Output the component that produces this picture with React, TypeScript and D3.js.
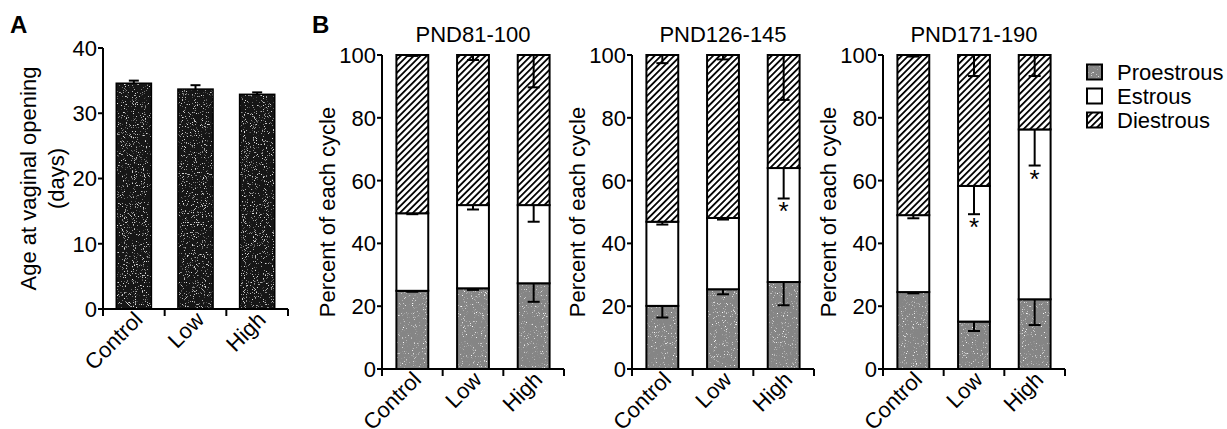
import React from "react";
import * as d3 from "d3";

// ---------- data ----------
const categories = ["Control", "Low", "High"];

// Panel A: age at vaginal opening (days)
const ageMeans = [34.6, 33.7, 32.9];
const ageSE = [0.4, 0.6, 0.3];
const ageTicks = [0, 10, 20, 30, 40];

// Panel B: percent of each cycle phase
const periods = ["PND81-100", "PND126-145", "PND171-190"];
const phases = ["Proestrous", "Estrous", "Diestrous"];
const proestrous = [
  [24.9, 25.7, 27.3],
  [20.1, 25.4, 27.7],
  [24.5, 15.1, 22.2],
];
const estrous = [
  [24.7, 26.5, 24.9],
  [26.8, 22.7, 36.3],
  [24.5, 43.2, 54.1],
];
const diestrous = [
  [50.4, 47.8, 47.8],
  [53.1, 51.9, 36.0],
  [51.0, 41.7, 23.7],
];
const proSE = [
  [0.3, 0.5, 5.9],
  [3.7, 1.6, 7.4],
  [0.4, 3.0, 8.2],
];
const estSE = [
  [0.3, 1.4, 5.3],
  [0.9, 0.5, 9.7],
  [1.0, 9.0, 11.5],
];
const diSE = [
  [0.3, 1.6, 10.3],
  [2.6, 1.4, 14.3],
  [0.5, 6.7, 6.7],
];
// significance markers: [period index, category index, phase]
const stars: [number, number, string][] = [
  [1, 2, "Estrous"],
  [2, 1, "Estrous"],
  [2, 2, "Estrous"],
];
const pctTicks = [0, 20, 40, 60, 80, 100];

// ---------- layout ----------
const W = 1227;
const H = 429;
const FONT = "'Liberation Sans', Arial, Helvetica, sans-serif";
const FS = 22;
const GRAY = "#858585";
const DARK = "#161616";

function CatLabels({ x, y0 }: { x: d3.ScaleBand<string>; y0: number }) {
  return (
    <g>
      {categories.map((c) => {
        const cx = (x(c) as number) + x.bandwidth() / 2;
        return (
          <text
            key={c}
            transform={`translate(${cx + 10},${y0 + 12}) rotate(-45)`}
            textAnchor="end"
            fontSize={FS}
            fontFamily={FONT}
          >
            {c}
          </text>
        );
      })}
    </g>
  );
}

function XAxisLine({ x, y0 }: { x: d3.ScaleBand<string>; y0: number }) {
  const [r0, r1] = x.range();
  const step = (r1 - r0) / categories.length;
  const bounds = d3.range(categories.length + 1).map((i) => r0 + i * step);
  return (
    <g stroke="#000" strokeWidth={2}>
      <line x1={r0} x2={r1} y1={y0} y2={y0} />
      {bounds.map((b, i) => (
        <line key={i} x1={b} x2={b} y1={y0} y2={y0 + 7} />
      ))}
    </g>
  );
}

function YAxis({
  y,
  x0,
  ticks,
}: {
  y: d3.ScaleLinear<number, number>;
  x0: number;
  ticks: number[];
}) {
  const [d0, d1] = y.domain();
  return (
    <g>
      <line x1={x0} x2={x0} y1={y(d0)} y2={y(d1)} stroke="#000" strokeWidth={2} />
      {ticks.map((t) => (
        <g key={t}>
          <line x1={x0 - 5} x2={x0} y1={y(t)} y2={y(t)} stroke="#000" strokeWidth={2} />
          <text
            x={x0 - 6}
            y={y(t)}
            dy="0.36em"
            textAnchor="end"
            fontSize={FS}
            fontFamily={FONT}
          >
            {t}
          </text>
        </g>
      ))}
    </g>
  );
}

// A rect whose fill is speckled (scanned-print look) and whose outline is drawn on top
function SpeckRect(props: {
  x: number;
  y: number;
  width: number;
  height: number;
  fill: string;
  filter?: string;
  strokeWidth: number;
}) {
  const { x, y, width, height, fill, filter, strokeWidth } = props;
  return (
    <g>
      <rect x={x} y={y} width={width} height={height} fill={fill} filter={filter} />
      <rect
        x={x}
        y={y}
        width={width}
        height={height}
        fill="none"
        stroke="#000"
        strokeWidth={strokeWidth}
      />
    </g>
  );
}

export default function App() {
  // Panel A scales
  const ax = d3
    .scaleBand<string>()
    .domain(categories)
    .range([103, 288])
    .paddingInner(0.43)
    .paddingOuter(0.215);
  const ay = d3.scaleLinear().domain([0, 40]).range([309, 48]);

  // Panel B
  const panelLeft = [382, 632, 883];
  const panelWidth = 182;
  const by = d3.scaleLinear().domain([0, 100]).range([369, 55]);
  const fills: Record<string, string> = {
    Proestrous: GRAY,
    Estrous: "#ffffff",
    Diestrous: "url(#hatch)",
  };
  const filters: Record<string, string | undefined> = {
    Proestrous: "url(#speckGray)",
    Estrous: undefined,
    Diestrous: undefined,
  };

  const capA = 10;
  const capB = 12;
  const HP = 4.6;

  return (
    <svg
      width={W}
      height={H}
      style={{ position: "absolute", left: 0, top: 0, background: "#fff" }}
      fontFamily={FONT}
    >
      <defs>
        <pattern
          id="hatch"
          patternUnits="userSpaceOnUse"
          width={HP}
          height={HP}
          patternTransform="rotate(45)"
        >
          <rect width={HP} height={HP} fill="#fff" />
          <line x1={0.9} y1={0} x2={0.9} y2={HP} stroke="#000" strokeWidth={1.8} />
        </pattern>
        <filter id="speckDark" x="0" y="0" width="100%" height="100%">
          <feTurbulence type="fractalNoise" baseFrequency="0.9" numOctaves="2" seed="4" result="n" />
          <feColorMatrix
            in="n"
            type="matrix"
            values="0 0 0 0 0.75  0 0 0 0 0.75  0 0 0 0 0.75  7 0 0 0 -4.4"
            result="spots"
          />
          <feComposite in="spots" in2="SourceGraphic" operator="in" result="clip" />
          <feMerge>
            <feMergeNode in="SourceGraphic" />
            <feMergeNode in="clip" />
          </feMerge>
        </filter>
        <filter id="speckGray" x="0" y="0" width="100%" height="100%">
          <feTurbulence type="fractalNoise" baseFrequency="0.9" numOctaves="2" seed="7" result="n" />
          <feColorMatrix
            in="n"
            type="matrix"
            values="0 0 0 0 1  0 0 0 0 1  0 0 0 0 1  6 0 0 0 -3.9"
            result="light"
          />
          <feColorMatrix
            in="n"
            type="matrix"
            values="0 0 0 0 0.3  0 0 0 0 0.3  0 0 0 0 0.3  -6 0 0 0 2.1"
            result="dark"
          />
          <feComposite in="light" in2="SourceGraphic" operator="in" result="lc" />
          <feComposite in="dark" in2="SourceGraphic" operator="in" result="dc" />
          <feMerge>
            <feMergeNode in="SourceGraphic" />
            <feMergeNode in="lc" />
            <feMergeNode in="dc" />
          </feMerge>
        </filter>
      </defs>
      <rect width={W} height={H} fill="#fff" />

      {/* Panel A */}
      <text x={10} y={33} fontSize={24} fontWeight="bold" fontFamily={FONT}>
        A
      </text>
      <text
        transform={`translate(36,${(ay(0) + ay(40)) / 2}) rotate(-90)`}
        textAnchor="middle"
        fontSize={FS}
      >
        Age at vaginal opening
      </text>
      <text
        transform={`translate(64,${(ay(0) + ay(40)) / 2}) rotate(-90)`}
        textAnchor="middle"
        fontSize={FS}
      >
        (days)
      </text>
      {categories.map((c, i) => {
        const x = ax(c) as number;
        const cx = x + ax.bandwidth() / 2;
        return (
          <g key={c}>
            <SpeckRect
              x={x}
              y={ay(ageMeans[i])}
              width={ax.bandwidth()}
              height={ay(0) - ay(ageMeans[i])}
              fill={DARK}
              filter="url(#speckDark)"
              strokeWidth={1.5}
            />
            <line
              x1={cx}
              x2={cx}
              y1={ay(ageMeans[i])}
              y2={ay(ageMeans[i] + ageSE[i])}
              stroke="#000"
              strokeWidth={2}
            />
            <line
              x1={cx - capA / 2}
              x2={cx + capA / 2}
              y1={ay(ageMeans[i] + ageSE[i])}
              y2={ay(ageMeans[i] + ageSE[i])}
              stroke="#000"
              strokeWidth={2}
            />
          </g>
        );
      })}
      <YAxis y={ay} x0={103} ticks={ageTicks} />
      <XAxisLine x={ax} y0={ay(0)} />
      <CatLabels x={ax} y0={ay(0)} />

      {/* Panel B */}
      <text x={312} y={33} fontSize={24} fontWeight="bold" fontFamily={FONT}>
        B
      </text>
      {periods.map((p, i) => {
        const x0 = panelLeft[i];
        const bx = d3
          .scaleBand<string>()
          .domain(categories)
          .range([x0, x0 + panelWidth])
          .paddingInner(0.475)
          .paddingOuter(0.2375);
        const rows = categories.map((c, j) => ({
          cat: c,
          Proestrous: proestrous[i][j],
          Estrous: estrous[i][j],
          Diestrous: diestrous[i][j],
        }));
        const se: Record<string, number[]> = {
          Proestrous: proSE[i],
          Estrous: estSE[i],
          Diestrous: diSE[i],
        };
        const series = d3.stack<any>().keys(phases)(rows);
        return (
          <g key={p}>
            <text
              x={x0 + panelWidth / 2}
              y={42}
              textAnchor="middle"
              fontSize={FS}
            >
              {p}
            </text>
            <text
              transform={`translate(${x0 - 47},${(by(0) + by(100)) / 2}) rotate(-90)`}
              textAnchor="middle"
              fontSize={FS}
            >
              Percent of each cycle
            </text>
            {series.map((s) => (
              <g key={s.key}>
                {s.map((d, j) => (
                  <SpeckRect
                    key={j}
                    x={bx(categories[j]) as number}
                    y={by(d[1])}
                    width={bx.bandwidth()}
                    height={by(d[0]) - by(d[1])}
                    fill={fills[s.key]}
                    filter={filters[s.key]}
                    strokeWidth={2}
                  />
                ))}
              </g>
            ))}
            {series.map((s) => (
              <g key={"e" + s.key} stroke="#000" strokeWidth={2}>
                {s.map((d, j) => {
                  const cx = (bx(categories[j]) as number) + bx.bandwidth() / 2;
                  const top = d[1];
                  const low = top - se[s.key][j];
                  return (
                    <g key={j}>
                      <line x1={cx} x2={cx} y1={by(top)} y2={by(low)} />
                      <line
                        x1={cx - capB / 2}
                        x2={cx + capB / 2}
                        y1={by(low)}
                        y2={by(low)}
                      />
                    </g>
                  );
                })}
              </g>
            ))}
            {stars
              .filter((st) => st[0] === i)
              .map((st) => {
                const j = st[1];
                const s = series.find((q) => q.key === st[2])!;
                const low = s[j][1] - se[st[2]][j];
                const cx = (bx(categories[j]) as number) + bx.bandwidth() / 2;
                return (
                  <text
                    key={"s" + j}
                    x={cx}
                    y={by(low) + 22}
                    textAnchor="middle"
                    fontSize={26}
                  >
                    *
                  </text>
                );
              })}
            <YAxis y={by} x0={x0} ticks={pctTicks} />
            <XAxisLine x={bx} y0={by(0)} />
            <CatLabels x={bx} y0={by(0)} />
          </g>
        );
      })}

      {/* Legend */}
      {phases.map((ph, k) => {
        const cy = 72 + k * 24;
        return (
          <g key={ph}>
            <SpeckRect
              x={1087}
              y={cy - 7.5}
              width={15}
              height={15}
              fill={fills[ph]}
              filter={filters[ph]}
              strokeWidth={2}
            />
            <text x={1117} y={cy} dy="0.36em" fontSize={FS}>
              {ph}
            </text>
          </g>
        );
      })}
    </svg>
  );
}
